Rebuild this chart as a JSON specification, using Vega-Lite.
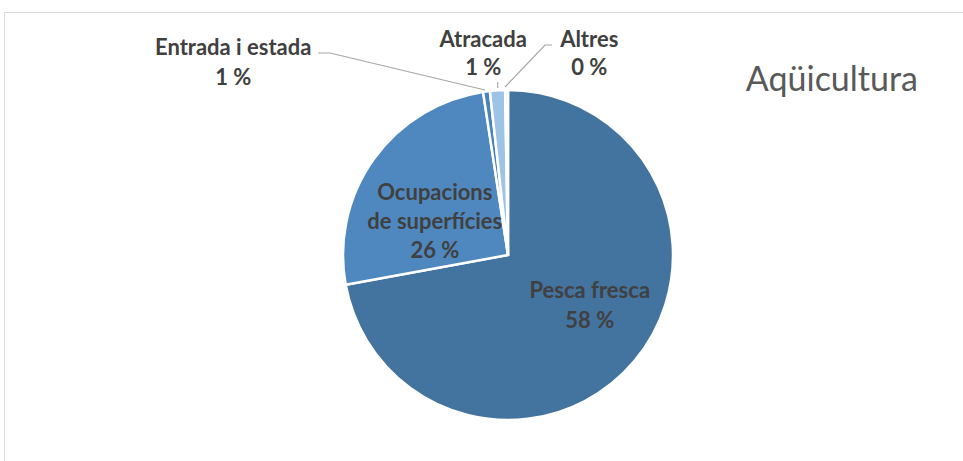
{
  "$schema": "https://vega.github.io/schema/vega-lite/v6.json",
  "width": 959,
  "height": 449,
  "autosize": {"type": "none"},
  "padding": {"left": 4, "top": 12, "right": 0, "bottom": 0},
  "background": "white",
  "config": {"view": {"stroke": "#D9D9D9", "strokeWidth": 1}},
  "title": {"text": "Aqüicultura", "anchor": "end", "frame": "group", "orient": "top", "offset": 0, "baseline": "alphabetic", "dx": -45, "dy": 113, "font": "Lato", "fontSize": 34, "fontWeight": "normal", "color": "#595959"},
  "datasets": {
    "slices": [
      {"cat": "Pesca fresca", "value": 259.6, "label": "Pesca fresca\n58 %", "ord": 1},
      {"cat": "Ocupacions de superfícies", "value": 91.7, "label": "Ocupacions\nde superfícies\n26 %", "ord": 2},
      {"cat": "Entrada i estada", "value": 2.4, "label": "Entrada i estada\n1 %", "ord": 3},
      {"cat": "Atracada", "value": 5.3, "label": "Atracada\n1 %", "ord": 4},
      {"cat": "Altres", "value": 1.0, "label": "Altres\n0 %", "ord": 5}
    ],
    "leaders": [
      {"g": "Entrada i estada", "seq": 1, "lx": -190, "ly": 202},
      {"g": "Entrada i estada", "seq": 2, "lx": -178, "ly": 202},
      {"g": "Entrada i estada", "seq": 3, "lx": -23, "ly": 165},
      {"g": "Atracada", "seq": 1, "lx": -10.3, "ly": 173},
      {"g": "Atracada", "seq": 2, "lx": -10.3, "ly": 167},
      {"g": "Altres", "seq": 1, "lx": 44, "ly": 210},
      {"g": "Altres", "seq": 2, "lx": 37, "ly": 210},
      {"g": "Altres", "seq": 3, "lx": -3, "ly": 168}
    ]
  },
  "layer": [
    {
      "data": {"name": "slices"},
      "mark": {"type": "arc", "outerRadius": 165, "stroke": "white", "strokeWidth": 2.5},
      "encoding": {
        "x": {"datum": 0, "type": "quantitative", "scale": {"domain": [-504, 455], "zero": false, "nice": false}, "axis": null},
        "y": {"datum": 0, "type": "quantitative", "scale": {"domain": [-206, 243], "zero": false, "nice": false}, "axis": null},
        "theta": {"field": "value", "type": "quantitative", "stack": true},
        "order": {"field": "ord"},
        "color": {"field": "cat", "type": "nominal", "legend": null, "scale": {"domain": ["Pesca fresca", "Ocupacions de superfícies", "Entrada i estada", "Atracada", "Altres"], "range": ["#43739F", "#4F88BF", "#4A82BE", "#9DC3E6", "#C9DCF0"]}}
      }
    },
    {
      "data": {"name": "leaders"},
      "mark": {"type": "line", "stroke": "#A6A6A6", "strokeWidth": 1.2},
      "encoding": {
        "x": {"field": "lx", "type": "quantitative", "scale": {"domain": [-504, 455], "zero": false, "nice": false}, "axis": null},
        "y": {"field": "ly", "type": "quantitative", "scale": {"domain": [-206, 243], "zero": false, "nice": false}, "axis": null},
        "detail": {"field": "g"},
        "order": {"field": "seq"}
      }
    },
    {
      "data": {"name": "slices"},
      "mark": {"type": "text", "radius": 96, "dx": 8, "dy": -25, "font": "Lato", "fontWeight": "bold", "fontSize": 22, "fill": "#404040", "lineBreak": "\n", "lineHeight": 30, "align": "center", "baseline": "middle"},
      "encoding": {
        "x": {"datum": 0, "type": "quantitative", "scale": {"domain": [-504, 455], "zero": false, "nice": false}, "axis": null},
        "y": {"datum": 0, "type": "quantitative", "scale": {"domain": [-206, 243], "zero": false, "nice": false}, "axis": null},
        "theta": {"field": "value", "type": "quantitative", "stack": true},
        "order": {"field": "ord"},
        "detail": {"field": "cat"},
        "text": {"condition": {"test": "datum.cat === 'Pesca fresca'", "field": "label"}, "value": ""}
      }
    },
    {
      "data": {"name": "slices"},
      "mark": {"type": "text", "radius": 80, "dx": -8, "dy": -16, "font": "Lato", "fontWeight": "bold", "fontSize": 22, "fill": "#404040", "lineBreak": "\n", "lineHeight": 29, "align": "center", "baseline": "middle"},
      "encoding": {
        "x": {"datum": 0, "type": "quantitative", "scale": {"domain": [-504, 455], "zero": false, "nice": false}, "axis": null},
        "y": {"datum": 0, "type": "quantitative", "scale": {"domain": [-206, 243], "zero": false, "nice": false}, "axis": null},
        "theta": {"field": "value", "type": "quantitative", "stack": true},
        "order": {"field": "ord"},
        "detail": {"field": "cat"},
        "text": {"condition": {"test": "datum.cat === 'Ocupacions de superfícies'", "field": "label"}, "value": ""}
      }
    },
    {
      "data": {"name": "slices"},
      "mark": {"type": "text", "radius": 190, "dx": -250, "dy": -19, "font": "Lato", "fontWeight": "bold", "fontSize": 22, "fill": "#404040", "lineBreak": "\n", "lineHeight": 30, "align": "center", "baseline": "middle"},
      "encoding": {
        "x": {"datum": 0, "type": "quantitative", "scale": {"domain": [-504, 455], "zero": false, "nice": false}, "axis": null},
        "y": {"datum": 0, "type": "quantitative", "scale": {"domain": [-206, 243], "zero": false, "nice": false}, "axis": null},
        "theta": {"field": "value", "type": "quantitative", "stack": true},
        "order": {"field": "ord"},
        "detail": {"field": "cat"},
        "text": {"condition": {"test": "datum.cat === 'Entrada i estada'", "field": "label"}, "value": ""}
      }
    },
    {
      "data": {"name": "slices"},
      "mark": {"type": "text", "radius": 201, "dx": -12, "dy": -14, "font": "Lato", "fontWeight": "bold", "fontSize": 22, "fill": "#404040", "lineBreak": "\n", "lineHeight": 28, "align": "center", "baseline": "middle"},
      "encoding": {
        "x": {"datum": 0, "type": "quantitative", "scale": {"domain": [-504, 455], "zero": false, "nice": false}, "axis": null},
        "y": {"datum": 0, "type": "quantitative", "scale": {"domain": [-206, 243], "zero": false, "nice": false}, "axis": null},
        "theta": {"field": "value", "type": "quantitative", "stack": true},
        "order": {"field": "ord"},
        "detail": {"field": "cat"},
        "text": {"condition": {"test": "datum.cat === 'Atracada'", "field": "label"}, "value": ""}
      }
    },
    {
      "data": {"name": "slices"},
      "mark": {"type": "text", "radius": 201, "dx": 83, "dy": -14, "font": "Lato", "fontWeight": "bold", "fontSize": 22, "fill": "#404040", "lineBreak": "\n", "lineHeight": 28, "align": "center", "baseline": "middle"},
      "encoding": {
        "x": {"datum": 0, "type": "quantitative", "scale": {"domain": [-504, 455], "zero": false, "nice": false}, "axis": null},
        "y": {"datum": 0, "type": "quantitative", "scale": {"domain": [-206, 243], "zero": false, "nice": false}, "axis": null},
        "theta": {"field": "value", "type": "quantitative", "stack": true},
        "order": {"field": "ord"},
        "detail": {"field": "cat"},
        "text": {"condition": {"test": "datum.cat === 'Altres'", "field": "label"}, "value": ""}
      }
    }
  ]
}
